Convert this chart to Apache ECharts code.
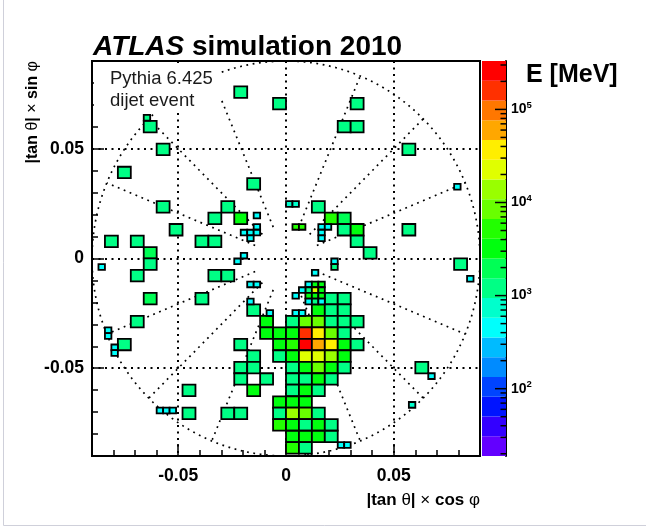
<!DOCTYPE html>
<html>
<head>
<meta charset="utf-8">
<title>ATLAS simulation 2010 - FCal dijet event</title>
<script src="https://cdn.jsdelivr.net/npm/echarts@6/dist/echarts.min.js"></script>
<style>
  html, body { margin: 0; padding: 0; background: #ffffff; }
  #chart { width: 646px; height: 528px; }
</style>
</head>
<body>
<div id="chart"></div>
<script>
// ---------------- plot ranges (|tan θ| units) ----------------
const AXIS_MIN = -0.09;
const AXIS_MAX = 0.09;

// FCal1 cell sizes, full cells and the half-size edge cells
const CELL_W = 0.006, CELL_H = 0.00523;
const FINE_W = 0.003, FINE_H = 0.002615;

// energy scale: log10(E / MeV) range, 20 contour colours from low to high
const Z_LOG_MIN = 1.277;
const Z_LOG_MAX = 5.52;
const paletteColors = [
  '#6300ff', '#3300ff', '#0014ff', '#0044ff', '#008bff',
  '#00bbff', '#00fffc', '#00ffcc', '#00ff85', '#00ff55',
  '#00ff0e', '#22ff00', '#69ff00', '#99ff00', '#e0ff00',
  '#ffee00', '#ffa700', '#ff7700', '#ff3000', '#ff0000'
];

// colour-bar tick values (MeV)
const colorbarMajorTicks = [100, 1000, 10000, 100000];
const colorbarMinorTicks = [
  20, 30, 40, 50, 60, 70, 80, 90,
  200, 300, 400, 500, 600, 700, 800, 900,
  2000, 3000, 4000, 5000, 6000, 7000, 8000, 9000,
  20000, 30000, 40000, 50000, 60000, 70000, 80000, 90000,
  200000, 300000
];

// calorimeter segmentation overlay: outer ring radius, ray angles (deg), ray inner radius
const RING_RADIUS = 0.09;
const RAY_INNER_RADIUS = 0.0155;
const rayAngles = [22.5, 45, 67.5, 112.5, 135, 157.5, 202.5, 225, 247.5, 292.5, 315, 337.5];

// ---------------- cell energies: [x, y, E (MeV)] at cell centres ----------------
const upperLeftCells = [
  [-0.021, 0.0758, 1180], [-0.003, 0.0706, 1240], [-0.063, 0.0601, 1310],
  [-0.057, 0.0497, 1150], [-0.075, 0.0392, 1260], [-0.015, 0.0340, 1380],
  [-0.057, 0.0235, 1210], [-0.027, 0.0235, 1290], [-0.033, 0.0183, 1340],
  [-0.021, 0.0183, 3400], [-0.051, 0.0131, 1230], [-0.081, 0.0078, 1270],
  [-0.069, 0.0078, 1190], [-0.063, 0.0026, 2150], [-0.039, 0.0078, 1320],
  [-0.033, 0.0078, 1280]
];
const upperRightCells = [
  [0.033, 0.0706, 1250], [0.027, 0.0601, 1330], [0.033, 0.0601, 1270],
  [0.057, 0.0497, 1220], [0.015, 0.0235, 1300], [0.021, 0.0183, 4600],
  [0.027, 0.0183, 1900], [0.027, 0.0131, 1350], [0.033, 0.0131, 2700],
  [0.033, 0.0078, 1450], [0.039, 0.0026, 1260], [0.057, 0.0131, 1240]
];
const lowerLeftCells = [
  [-0.063, -0.0026, 1270], [-0.069, -0.0078, 1210], [-0.033, -0.0078, 1300],
  [-0.027, -0.0078, 1240], [-0.063, -0.0183, 2000], [-0.039, -0.0183, 1330],
  [-0.015, -0.0235, 1280], [-0.069, -0.0288, 1360], [-0.075, -0.0392, 1250],
  [-0.021, -0.0392, 1310], [-0.015, -0.0445, 1200], [-0.021, -0.0497, 1340],
  [-0.015, -0.0497, 1290], [-0.009, -0.0549, 1380], [-0.021, -0.0549, 1230],
  [-0.015, -0.0601, 3100], [-0.045, -0.0601, 1270], [-0.045, -0.0706, 1220],
  [-0.027, -0.0706, 1300], [-0.021, -0.0706, 1260]
];
const lowerRightCells = [
  [0.081, -0.0026, 1230], [0.063, -0.0497, 1280]
];
// the jet core below the beam axis
const jetCoreCells = [
  [-0.009, -0.0288, 3300], [-0.009, -0.0340, 3000],
  [-0.003, -0.0340, 3600], [-0.003, -0.0392, 3200], [-0.003, -0.0445, 1450],
  [-0.003, -0.0654, 2900], [-0.003, -0.0706, 1400], [-0.003, -0.0758, 4500],
  [0.021, -0.0183, 1320], [0.027, -0.0183, 1240],
  [0.015, -0.0235, 3500], [0.021, -0.0235, 1300], [0.027, -0.0235, 1200],
  [0.003, -0.0288, 1350], [0.009, -0.0288, 8200], [0.015, -0.0288, 7600],
  [0.021, -0.0288, 1420], [0.027, -0.0288, 1260], [0.033, -0.0288, 1310],
  [0.003, -0.0340, 3700], [0.009, -0.0340, 165000], [0.015, -0.0340, 38000],
  [0.021, -0.0340, 8800], [0.027, -0.0340, 1400],
  [0.003, -0.0392, 4700], [0.009, -0.0392, 285000], [0.015, -0.0392, 59000],
  [0.021, -0.0392, 36000], [0.027, -0.0392, 3300], [0.033, -0.0392, 1290],
  [0.003, -0.0445, 3400], [0.009, -0.0445, 23000], [0.015, -0.0445, 21000],
  [0.021, -0.0445, 13500], [0.027, -0.0445, 3100],
  [0.003, -0.0497, 1400], [0.009, -0.0497, 3600], [0.015, -0.0497, 8000],
  [0.021, -0.0497, 3300], [0.027, -0.0497, 1350],
  [0.003, -0.0549, 1300], [0.009, -0.0549, 1450], [0.015, -0.0549, 3200],
  [0.021, -0.0549, 1250],
  [0.003, -0.0601, 1380], [0.009, -0.0601, 3500], [0.015, -0.0601, 1330],
  [0.003, -0.0654, 3400], [0.009, -0.0654, 3000],
  [0.003, -0.0706, 13000], [0.009, -0.0706, 8600], [0.015, -0.0706, 1420],
  [0.003, -0.0758, 3600], [0.009, -0.0758, 1380], [0.015, -0.0758, 3300],
  [0.021, -0.0758, 1250],
  [0.003, -0.0811, 3900], [0.009, -0.0811, 3200], [0.015, -0.0811, 3500],
  [0.021, -0.0811, 1300],
  [0.003, -0.0863, 4400], [0.009, -0.0863, 1400]
];
// half-size cells: [x, y, E (MeV)]
const fineCells = [
  [-0.0645, 0.0641, 1310],
  [-0.0135, 0.0196, 460], [-0.0195, 0.0118, 430], [-0.0165, 0.0118, 480],
  [-0.0135, 0.0144, 450], [-0.0135, 0.0118, 500], [-0.0165, 0.0092, 440],
  [0.0015, 0.0248, 760], [0.0045, 0.0248, 720],
  [0.0045, 0.0144, 5000], [0.0075, 0.0144, 4800],
  [0.0165, 0.0144, 450], [0.0195, 0.0144, 470], [0.0165, 0.0118, 430], [0.0165, 0.0092, 490],
  [0.0225, -0.0013, 460], [0.0225, -0.0039, 1100],
  [0.0795, 0.0327, 470], [0.0855, -0.0092, 450],
  [-0.0855, -0.0039, 440], [-0.0225, -0.0013, 470], [-0.0195, 0.0013, 450],
  [-0.0165, -0.0118, 480], [-0.0135, -0.0118, 430], [-0.0165, -0.0196, 460],
  [-0.0075, -0.0248, 490],
  [-0.0825, -0.0327, 450], [-0.0825, -0.0353, 430],
  [-0.0795, -0.0405, 470], [-0.0795, -0.0431, 440],
  [-0.0585, -0.0693, 450], [-0.0555, -0.0693, 430], [-0.0525, -0.0693, 460],
  [0.0135, -0.0065, 480],
  [0.0105, -0.0118, 470], [0.0135, -0.0118, 3300], [0.0165, -0.0118, 3500],
  [0.0105, -0.0144, 1250], [0.0135, -0.0144, 22000], [0.0165, -0.0144, 3400],
  [0.0105, -0.0170, 3200], [0.0135, -0.0170, 3600], [0.0165, -0.0170, 3100],
  [0.0105, -0.0196, 460], [0.0135, -0.0196, 1300], [0.0165, -0.0196, 450],
  [0.0045, -0.0170, 440], [0.0075, -0.0144, 430],
  [0.0045, -0.0248, 460], [0.0075, -0.0248, 480],
  [0.0675, -0.0536, 450], [0.0585, -0.0667, 700],
  [0.0255, -0.0850, 450], [0.0285, -0.0850, 470]
];

// ---------------- derived series data ----------------
const FONT = '"Liberation Sans", Arial, Helvetica, sans-serif';
const bandEdges = [];
for (let k = 0; k <= paletteColors.length; k++) {
  bandEdges.push(Math.pow(10, Z_LOG_MIN + k * (Z_LOG_MAX - Z_LOG_MIN) / paletteColors.length));
}
const visualPieces = paletteColors.map((c, k) => (
  k === paletteColors.length - 1
    ? { gte: bandEdges[k], lte: bandEdges[k + 1] * 10, color: c }
    : { gte: bandEdges[k], lt: bandEdges[k + 1], color: c }
));
const colorbarBands = paletteColors.map((c, k) => [bandEdges[k], bandEdges[k + 1], Math.sqrt(bandEdges[k] * bandEdges[k + 1])]);
const colorbarTickData = colorbarMajorTicks.map(v => [1, v, 1]).concat(colorbarMinorTicks.map(v => [1, v, 0]));
const allCells = [].concat(upperLeftCells, upperRightCells, lowerLeftCells, lowerRightCells, jetCoreCells);

function cellRenderer(w, h) {
  return function (params, api) {
    const x = api.value(0), y = api.value(1);
    const p0 = api.coord([x - w / 2, y + h / 2]);
    const p1 = api.coord([x + w / 2, y - h / 2]);
    return {
      type: 'rect',
      shape: { x: p0[0], y: p0[1], width: p1[0] - p0[0], height: p1[1] - p0[1] },
      style: { fill: api.visual('color'), stroke: '#000', lineWidth: 1.8 }
    };
  };
}

function segmentationRenderer(params, api) {
  const dotted = { stroke: '#000', lineWidth: 1.7, lineDash: [1.8, 4.6], fill: null };
  const children = [];
  const ring = [];
  for (let a = 0; a <= 360; a += 1.5) {
    const t = a * Math.PI / 180;
    ring.push(api.coord([RING_RADIUS * Math.cos(t), RING_RADIUS * Math.sin(t)]));
  }
  children.push({ type: 'polyline', shape: { points: ring }, style: dotted });
  rayAngles.forEach(deg => {
    const t = deg * Math.PI / 180;
    const p0 = api.coord([RAY_INNER_RADIUS * Math.cos(t), RAY_INNER_RADIUS * Math.sin(t)]);
    const p1 = api.coord([RING_RADIUS * Math.cos(t), RING_RADIUS * Math.sin(t)]);
    children.push({ type: 'line', shape: { x1: p0[0], y1: p0[1], x2: p1[0], y2: p1[1] }, style: dotted });
  });
  return { type: 'group', children: children };
}

const axisCommon = {
  type: 'value', min: AXIS_MIN, max: AXIS_MAX, splitNumber: 4,
  axisLine: { show: true, onZero: false, lineStyle: { color: '#000', width: 2 } },
  axisTick: { show: true, inside: true, length: 12, lineStyle: { color: '#000', width: 1.5 } },
  minorTick: { show: true, splitNumber: 5, length: 6, lineStyle: { color: '#000', width: 1.5 } },
  splitLine: { show: true, lineStyle: { color: '#000', width: 2, type: [2, 4.5] } },
  axisLabel: {
    show: true, fontSize: 17.5, fontWeight: 'bold', color: '#000', fontFamily: FONT,
    showMinLabel: false, showMaxLabel: false
  }
};

const titleRich = {
  b: { fontSize: 17, fontWeight: 'bold', color: '#000', fontFamily: FONT },
  g: { fontSize: 17, fontWeight: 'normal', color: '#000', fontFamily: FONT }
};
const yTitleRich = {
  b: { fontSize: 16, fontWeight: 'bold', color: '#000', fontFamily: FONT },
  g: { fontSize: 16, fontWeight: 'normal', color: '#000', fontFamily: FONT }
};

const chart = echarts.init(document.getElementById('chart'), null, { renderer: 'canvas' });
chart.setOption({
  animation: false,
  backgroundColor: '#ffffff',
  textStyle: { fontFamily: FONT },
  title: [
    {
      text: '{i|ATLAS}{n| simulation 2010}', left: 93, top: 33, padding: 0,
      textStyle: {
        rich: {
          i: { fontSize: 28, fontWeight: 'bold', fontStyle: 'italic', color: '#000', fontFamily: FONT },
          n: { fontSize: 28, fontWeight: 'bold', color: '#000', fontFamily: FONT }
        }
      }
    },
    {
      text: 'E [MeV]', left: 526, top: 63, padding: 0,
      textStyle: { fontSize: 25, fontWeight: 'bold', color: '#000', fontFamily: FONT }
    }
  ],
  grid: [
    { left: 92, top: 61, width: 388, height: 395, show: true, borderColor: '#000', borderWidth: 2,
      backgroundColor: 'transparent', containLabel: false, outerBoundsMode: 'none' },
    { left: 482, top: 61, width: 24, height: 395, show: false, containLabel: false, outerBoundsMode: 'none' }
  ],
  xAxis: [
    Object.assign({}, axisCommon, {
      gridIndex: 0,
      axisLabel: Object.assign({}, axisCommon.axisLabel, { margin: 11 }),
      name: '{b||tan }{g|θ}{b|| }{g|×}{b| cos }{g|φ}',
      nameLocation: 'end', nameGap: 0,
      nameTextStyle: { align: 'right', verticalAlign: 'top', padding: [36, 0, 0, 0], rich: titleRich }
    }),
    { gridIndex: 1, type: 'value', min: 0, max: 1, show: false }
  ],
  yAxis: [
    Object.assign({}, axisCommon, {
      gridIndex: 0,
      axisLabel: Object.assign({}, axisCommon.axisLabel, { margin: 8 })
    }),
    {
      gridIndex: 1, type: 'log', logBase: 10,
      min: Math.pow(10, Z_LOG_MIN), max: Math.pow(10, Z_LOG_MAX),
      position: 'right',
      axisLine: { show: true, onZero: false, lineStyle: { color: '#000', width: 2 } },
      axisTick: { show: false },
      minorTick: { show: false },
      splitLine: { show: false },
      axisLabel: {
        show: true, margin: 5, showMinLabel: false, showMaxLabel: false,
        formatter: v => '{b|10}{s|' + Math.round(Math.log10(v)) + '}',
        rich: {
          b: { fontSize: 14, fontWeight: 'bold', color: '#000', fontFamily: FONT, lineHeight: 19 },
          s: { fontSize: 9.5, fontWeight: 'bold', color: '#000', fontFamily: FONT, verticalAlign: 'top', lineHeight: 10 }
        }
      }
    }
  ],
  visualMap: {
    type: 'piecewise', show: false, dimension: 2, seriesIndex: [0, 1, 3],
    pieces: visualPieces
  },
  series: [
    { type: 'custom', name: 'cells', xAxisIndex: 0, yAxisIndex: 0, z: 3,
      renderItem: cellRenderer(CELL_W, CELL_H), data: allCells },
    { type: 'custom', name: 'edge cells', xAxisIndex: 0, yAxisIndex: 0, z: 3,
      renderItem: cellRenderer(FINE_W, FINE_H), data: fineCells },
    { type: 'custom', name: 'segmentation', xAxisIndex: 0, yAxisIndex: 0, z: 2, silent: true,
      renderItem: segmentationRenderer, data: [[0, 0]] },
    { type: 'custom', name: 'colour bar', xAxisIndex: 1, yAxisIndex: 1, z: 2, silent: true,
      renderItem: function (params, api) {
        const p0 = api.coord([0, api.value(1)]);
        const p1 = api.coord([1, api.value(0)]);
        return {
          type: 'rect',
          shape: { x: p0[0], y: p0[1], width: p1[0] - p0[0], height: p1[1] - p0[1] },
          style: { fill: api.visual('color'), stroke: null }
        };
      },
      data: colorbarBands },
    { type: 'custom', name: 'colour bar ticks', xAxisIndex: 1, yAxisIndex: 1, z: 4, silent: true,
      encode: { x: 0, y: 1 },
      renderItem: function (params, api) {
        const p = api.coord([api.value(0), api.value(1)]);
        const len = api.value(2) ? 11 : 5.5;
        return {
          type: 'line',
          shape: { x1: p[0] - len, y1: p[1], x2: p[0], y2: p[1] },
          style: { stroke: '#000', lineWidth: 1.5 }
        };
      },
      data: colorbarTickData }
  ],
  graphic: [
    { type: 'rect', z: 50, shape: { x: 94, y: 63, width: 127, height: 50 }, style: { fill: '#ffffff' } },
    { type: 'text', z: 51, x: 110, y: 68,
      style: { text: 'Pythia 6.425\ndijet event', fontSize: 18.5, lineHeight: 22, fill: '#1a1a1a', fontFamily: FONT } },
    { type: 'text', z: 51, x: 33, y: 61, rotation: Math.PI / 2,
      style: {
        text: '{b||tan }{g|θ}{b|| }{g|×}{b| sin }{g|φ}',
        align: 'right', verticalAlign: 'middle',
        rich: yTitleRich
      } },
    { type: 'line', z: 1, shape: { x1: 3.5, y1: 0, x2: 3.5, y2: 525.5 }, style: { stroke: '#cfd0da', lineWidth: 1 } },
    { type: 'line', z: 1, shape: { x1: 3.5, y1: 525.5, x2: 646, y2: 525.5 }, style: { stroke: '#cfd0da', lineWidth: 1 } }
  ]
});
</script>
</body>
</html>
